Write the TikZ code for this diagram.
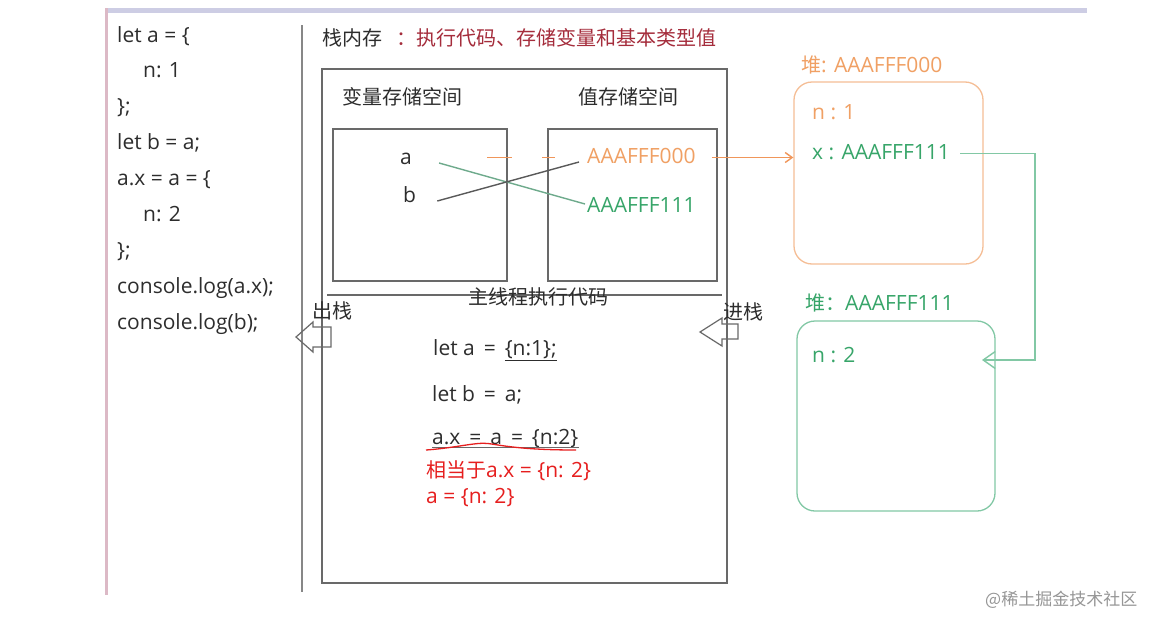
\documentclass[tikz,border=0pt]{standalone}
\usepackage{fontspec}
\setmainfont{Open Sans}
\newfontfamily\cjk{Noto Sans CJK SC}
\usetikzlibrary{arrows.meta}
\definecolor{inkgray}{RGB}{45,45,45}
\definecolor{boxgray}{RGB}{105,105,105}
\definecolor{titlered}{RGB}{165,45,60}
\definecolor{heaporange}{RGB}{240,160,100}
\definecolor{orangeline}{RGB}{245,190,150}
\definecolor{arroworange}{RGB}{240,150,90}
\definecolor{heapgreen}{RGB}{55,165,105}
\definecolor{greenline}{RGB}{130,200,165}
\definecolor{notered}{RGB}{230,30,30}
\definecolor{barlavender}{RGB}{205,205,228}
\definecolor{barpink}{RGB}{220,185,198}
\definecolor{markgray}{RGB}{150,150,150}
\newcommand\codefont{\fontsize{21}{25}\selectfont}
\newcommand\zh[1]{{\cjk\fontsize{20}{24}\selectfont #1}}

\begin{document}
\begin{tikzpicture}[
    x=1pt, y=-1pt,
    txt/.style={anchor=base west, inner sep=0pt, text height=15pt, text depth=4pt, font=\codefont, text=inkgray},
    membox/.style={draw=boxgray, line width=1.4pt, inner sep=0pt},
    heapbox/.style={draw=#1, line width=1.3pt, rounded corners=18pt, inner sep=0pt},
    pushpop/.style={draw=boxgray, line width=1.2pt, line join=miter},
    ptr/.style={line width=1.4pt},
    barb/.style={-{Straight Barb[length=7pt,width=10pt]}}
]
    \fill[white] (0,0) rectangle (1150,616);
    \useasboundingbox (0,0) rectangle (1150,616);

    % frame of the screenshot
    \draw[barlavender, line width=5pt] (105,10) -- (1087,10);
    \draw[barpink, line width=3pt] (106.5,8) -- (106.5,595);
    \draw[boxgray!80, line width=1.8pt] (302,25) -- (302,592);

    % source code
    \foreach \src/\ind [count=\i] in {let a = \{/0, n: 1/26, \};/0, let b = a;/0,
        a.x = a = \{/0, n: 2/26, \};/0, console.log(a.x);/0, console.log(b);/0}
        \node[txt] (src\i) at ({117+\ind}, {42+35.9*(\i-1)}) {\src};

    % stack memory
    \node[txt] (stackTitle) at (322,45) {\zh{栈内存\hspace{14pt}\textcolor{titlered}{：执行代码、存储变量和基本类型值}}};
    \node[membox, minimum width=405pt, minimum height=514pt] (stackBox) at (524.5,326) {};
    \node[membox, minimum width=174pt, minimum height=152pt] (varBox) at (420,205) {};
    \node[membox, minimum width=169pt, minimum height=152pt] (valBox) at (632.5,205) {};
    \node[txt] (varTitle) at (342,104) {\zh{变量存储空间}};
    \node[txt] (valTitle) at (578,104) {\zh{值存储空间}};
    \node[txt] (va) at (400,164) {a};
    \node[txt] (vb) at (403,202) {b};
    \node[txt, text=heaporange] (v000) at (587,163) {AAAFFF000};
    \node[txt, text=heapgreen] (v111) at (587,212) {AAAFFF111};
    \draw[ptr, draw=greenline!85!black] ([xshift=27pt,yshift=-4.5pt]va.east) -- ([xshift=-2pt,yshift=2.5pt]v111.west);
    \draw[ptr, draw=boxgray!85!black] ([xshift=21pt,yshift=-4.5pt]vb.east) -- ([xshift=-8pt,yshift=-4.5pt]v000.west);
    \draw[ptr, draw=arroworange, dash pattern=on 25pt off 30pt] ([xshift=-100pt]v000.west) -- ([xshift=-32pt]v000.west);

    % main thread
    \draw[boxgray, line width=1.4pt] (327,295) -- (722,295);
    \node[txt, anchor=base] (mainTitle) at (538,304) {\zh{主线程执行代码}};
    \node[txt] (popLabel) at (312,318) {\zh{出栈}};
    \draw[pushpop] (296,337) -- (313,322) -- (313,327) -- (331,327) -- (331,347) -- (313,347) -- (313,352) -- cycle;
    \node[txt] (pushLabel) at (723,319) {\zh{进栈}};
    \draw[pushpop] (700,332) -- (722,318) -- (722,324) -- (738,324) -- (738,339) -- (722,339) -- (722,346) -- cycle;
    \node[txt] (runA) at (433,355) {let a \,=\, \underline{\{n:1\};}};
    \node[txt] (runB) at (432,401) {let b \,=\, a;};
    \node[txt] (runX) at (432,444) {a.x \,=\, a \,=\, \{n:2\}};
    \draw[boxgray, line width=0.8pt] ([yshift=-3pt]runX.base west) -- ([yshift=-3pt]runX.base east);
    \draw[notered, line width=1.3pt] (426,450) .. controls (455,448) and (476,442) .. (488,443.5)
        .. controls (500,445) and (520,450) .. (576,450);
    \node[txt, text=notered] (noteA) at (426,477) {\zh{相当于}a.x = \{n: 2\}};
    \node[txt, text=notered] (noteB) at (426,503) {a = \{n: 2\}};

    % heap
    \node[heapbox=orangeline, minimum width=189pt, minimum height=182pt] (heapA) at (888.5,173) {};
    \node[txt, text=heaporange] (heapTitleA) at (801,72) {\zh{堆}: AAAFFF000};
    \node[txt, text=heaporange] (hn1) at (812,119) {n : 1};
    \node[txt, text=heapgreen] (hx) at (812,159) {x : AAAFFF111};
    \node[heapbox=greenline, minimum width=198pt, minimum height=190pt] (heapB) at (896,416) {};
    \node[txt, text=heapgreen] (heapTitleB) at (805,310) {\zh{堆：}AAAFFF111};
    \node[txt, text=heapgreen] (hn2) at (812,362) {n : 2};

    \draw[ptr, draw=arroworange, barb] ([xshift=16pt]v000.east) -- (v000.east -| heapA.west);
    \coordinate (intoB) at (982,360);
    \draw[ptr, draw=greenline, -{Straight Barb[length=12pt,width=17pt]}] ([xshift=10pt]hx.east) -- ++(75,0) |- (intoB);

    \node[txt, text=markgray] (mark) at (985,605) {{\cjk\fontsize{17}{20}\selectfont @稀土掘金技术社区}};
\end{tikzpicture}
\end{document}
